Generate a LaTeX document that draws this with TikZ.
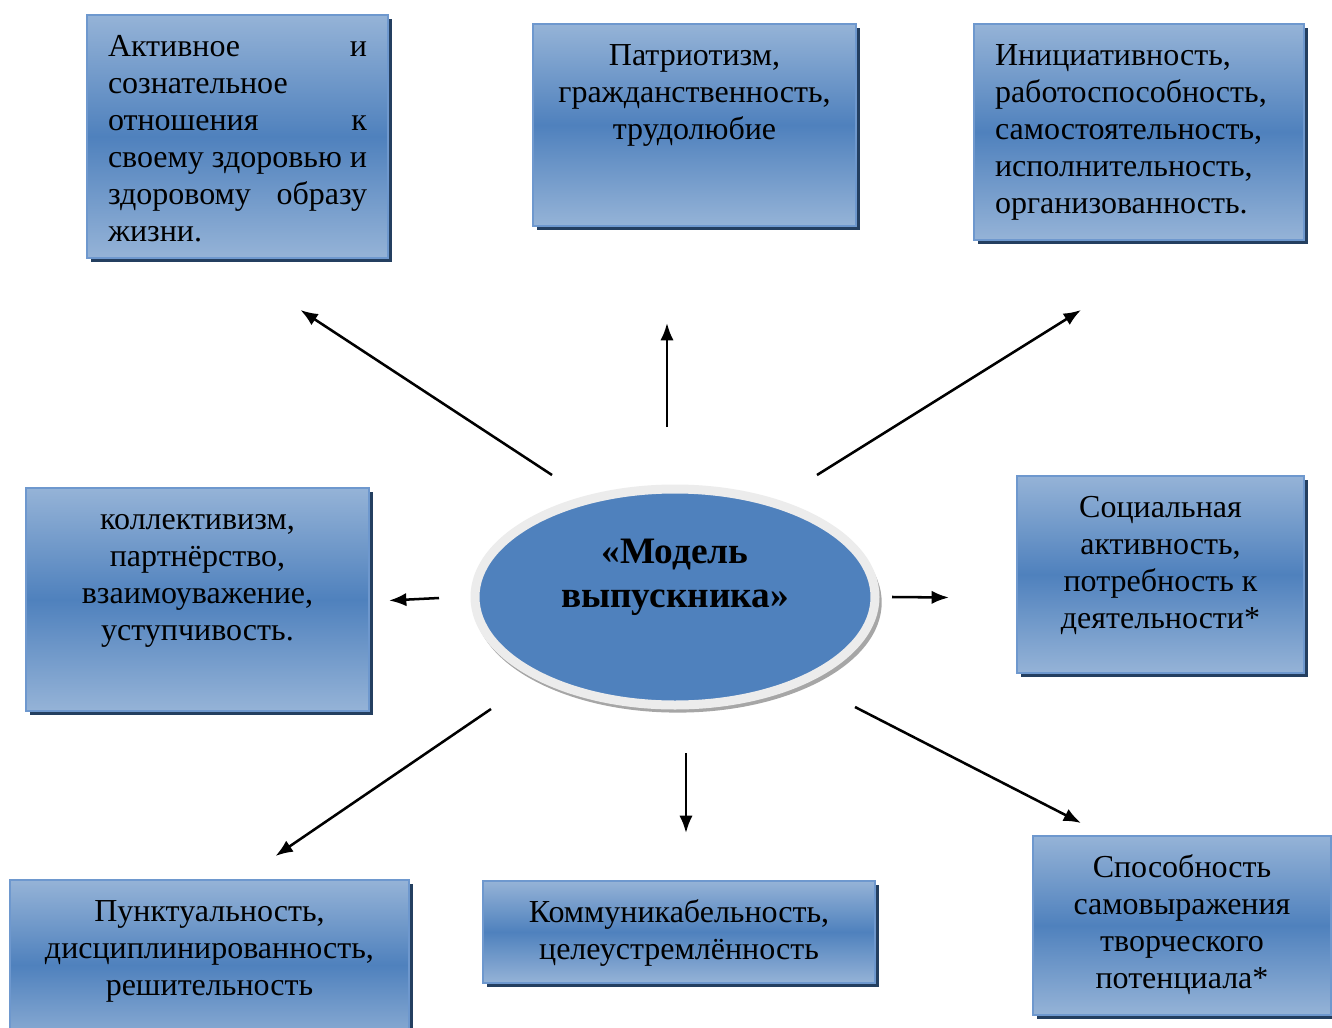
\documentclass[tikz,border=0pt]{standalone}
\usepackage{fontspec}
\setmainfont{Liberation Serif}
\usetikzlibrary{arrows.meta,shapes,shadows}
\definecolor{lite}{RGB}{149,179,215}
\definecolor{deep}{RGB}{79,129,189}
\definecolor{rimblue}{RGB}{110,152,206}
\definecolor{navy}{RGB}{36,63,96}
\definecolor{rim}{RGB}{236,236,236}
\newlength{\pxu}
\setlength{\pxu}{0.75pt}
\newcommand{\cardtext}[3]{\parbox[c][#2\pxu][t]{#1\pxu}{\rule{0pt}{41\pxu}#3}}

\begin{document}
\begin{tikzpicture}[x=0.75pt, y=-0.75pt]
\tikzstyle{card}=[rectangle, draw=rimblue, line width=1.2pt, top color=lite, bottom color=lite, middle color=deep, inner xsep=21\pxu, inner ysep=0pt, outer sep=0pt, anchor=north west, font=\fontsize{24}{27.75}\selectfont, drop shadow={shadow xshift=3pt, shadow yshift=-3pt, fill=navy, opacity=1}]
\tikzstyle{oval}=[ellipse, draw=rim, line width=6.75pt, fill=deep, minimum width=300pt, minimum height=162pt, drop shadow={shadow xshift=2pt, shadow yshift=-4pt, shadow scale=1.02, fill=black!35, opacity=1}]
\tikzstyle{title}=[align=center, font=\fontsize{28}{33}\selectfont\bfseries]
\tikzstyle{connect}=[-{Latex[length=13pt, width=10pt]}, line width=1.9pt]

  \fill[white] (0,0) rectangle (1332,1028);
  \useasboundingbox (0,0) rectangle (1332,1028);
  \clip (0,0) rectangle (1332,1028);

  \node[oval]  (model)   at (675,597) {};
  \node[title] (title)   at ([shift={(0,-20)}]model.center) {«Модель\\выпускника»};

  \node[card] (active)  at (87,15)    {\cardtext{259}{243}{Активное\hfill и\\сознательное\\отношения\hfill к\\своему здоровью и\\здоровому\hfill образу\\жизни.}};
  \node[card] (patriot) at (533,24)   {\cardtext{281}{202}{\centering Патриотизм,\\гражданственность,\\трудолюбие}};
  \node[card] (init)    at (974,24)   {\cardtext{288}{216}{Инициативность,\\работоспособность,\\самостоятельность,\\исполнительность,\\организованность.}};
  \node[card] (collect) at (26,488)   {\cardtext{301}{223}{\centering коллективизм,\\партнёрство,\\взаимоуважение,\\уступчивость.}};
  \node[card] (social)  at (1017,476) {\cardtext{245}{197}{\centering Социальная\\активность,\\потребность к\\деятельности*}};
  \node[card] (punct)   at (10,880)   {\cardtext{357}{170}{\centering Пунктуальность,\\дисциплинированность,\\решительность}};
  \node[card] (commun)  at (483,881)  {\cardtext{350}{102}{\centering Коммуникабельность,\\целеустремлённость}};
  \node[card] (ability) at (1033,836) {\cardtext{256}{179}{\centering Способность\\самовыражения\\творческого\\потенциала*}};

  \path ([shift={(-123,-122)}]model.center) edge [connect] ([shift={(63,52)}]active.south);
  \path ([shift={(-8,-170)}]model.center)   edge [connect] ([shift={(-27.5,97)}]patriot.south);
  \path ([shift={(142,-122)}]model.center)  edge [connect] ([shift={(-58,70)}]init.south);
  \path ([shift={(-236,1)}]model.center)    edge [connect] ([shift={(20,1)}]collect.east);
  \path ([shift={(217,0)}]model.center)     edge [connect] ([shift={(-68,23)}]social.west);
  \path ([shift={(-184,112)}]model.center)  edge [connect] ([shift={(66,-24)}]punct.north);
  \path ([shift={(11,156)}]model.center)    edge [connect] ([shift={(7,-48)}]commun.north);
  \path ([shift={(180,110)}]model.center)   edge [connect] ([shift={(-101,-13)}]ability.north);

\end{tikzpicture}
\end{document}
